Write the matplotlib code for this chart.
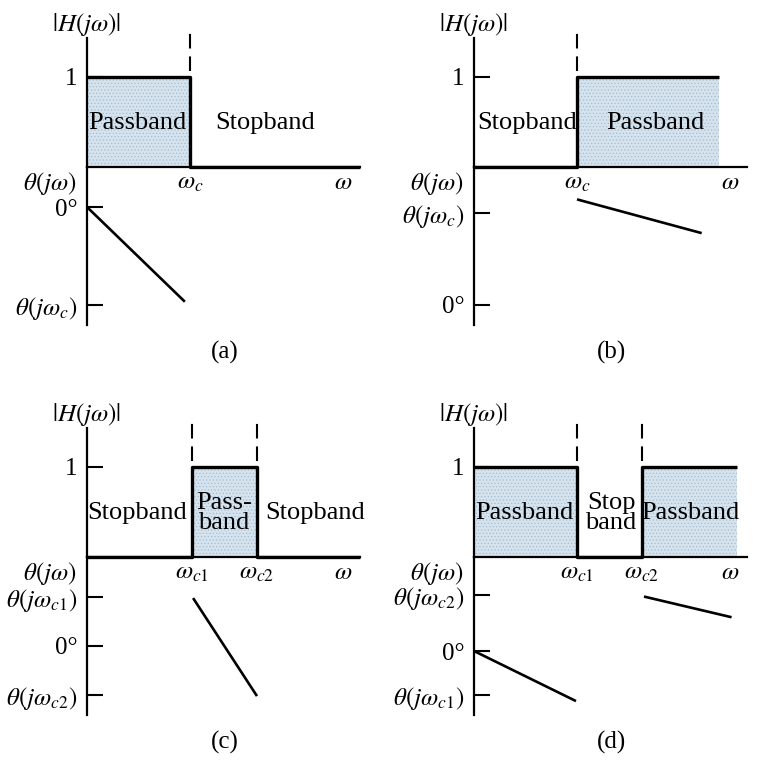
import matplotlib
matplotlib.use('Agg')
import matplotlib.pyplot as plt

plt.rcParams['font.family'] = ['Liberation Serif', 'DejaVu Serif']
plt.rcParams['mathtext.fontset'] = 'stix'
plt.rcParams['hatch.linewidth'] = 0.5

# ---------------- data ----------------
# magnitude responses (omega in units where the first cutoff ~ 1)
w_mag_a = [0, 1.0, 1.0, 2.65]
m_mag_a = [1, 1, 0, 0]
w_mag_b = [0, 1.0, 1.0, 2.38]
m_mag_b = [0, 0, 1, 1]
w_mag_c = [0, 1.02, 1.02, 1.65, 1.65, 2.65]
m_mag_c = [0, 0, 1, 1, 0, 0]
w_mag_d = [0, 1.0, 1.0, 1.63, 1.63, 2.55]
m_mag_d = [1, 1, 0, 0, 1, 1]

# pass-band fill segments (start, end)
pass_a = [(0, 1.0)]
pass_b = [(1.0, 2.38)]
pass_c = [(1.02, 1.65)]
pass_d = [(0, 1.0), (1.63, 2.55)]

# cutoff frequencies and their labels
cut_a = [1.0]
cut_b = [1.0]
cut_c = [1.02, 1.65]
cut_d = [1.0, 1.63]
cut_lbl_a = [r'$\omega_c$']
cut_lbl_b = [r'$\omega_c$']
cut_lbl_c = [r'$\omega_{c1}$', r'$\omega_{c2}$']
cut_lbl_d = [r'$\omega_{c1}$', r'$\omega_{c2}$']

# phase line segments: list of (omega list, phase list)
ph_a = [([0, 0.95], [0, -87])]
ph_b = [([1.0, 2.21], [97, 66])]
ph_c = [([1.03, 1.65], [44, -46])]
ph_d = [([0, 0.99], [0, -46]), ([1.65, 2.50], [50, 31])]

# phase ticks
ph_ticks_a = [0, -90]
ph_tlbl_a = ['0°', r'$\theta(j\omega_c)$']
ph_ticks_b = [84.5, 0]
ph_tlbl_b = [r'$\theta(j\omega_c)$', '0°']
ph_ticks_c = [45, 0, -45]
ph_tlbl_c = [r'$\theta(j\omega_{c1})$', '0°', r'$\theta(j\omega_{c2})$']
ph_ticks_d = [51.4, 0, -40.4]
ph_tlbl_d = [r'$\theta(j\omega_{c2})$', '0°', r'$\theta(j\omega_{c1})$']

# region labels (omega position, text)
reg_a = [(0.49, 'Passband'), (1.73, 'Stopband')]
reg_b = [(0.52, 'Stopband'), (1.76, 'Passband')]
reg_c = [(0.49, 'Stopband'), (1.33, 'Pass-\nband'), (2.21, 'Stopband')]
reg_d = [(0.49, 'Passband'), (1.33, 'Stop\nband'), (2.10, 'Passband')]

letters = ['(a)', '(b)', '(c)', '(d)']

# ---------------- layout ----------------
W, H = 774, 760
fig = plt.figure(figsize=(W / 100, H / 100), dpi=100)
fig.patch.set_facecolor('white')


def rect(x0, y0, x1, y1):
    return [x0 / W, 1 - y1 / H, (x1 - x0) / W, (y1 - y0) / H]


FILL = '#d5e3ee'
HATCH = '#a7bccd'
FS = 18
FSR = 19
K = 1.0889  # px per phase unit
XMAX = 2.65


def panel(ox, oy, w_mag, m_mag, passes, cuts, cut_lbls, ph, ph_ticks, ph_tlbl,
          ph_zero_px, regions, letter):
    axm = fig.add_axes(rect(ox + 87, oy + 38, ox + 360, oy + 167))
    axm.set_xlim(0, XMAX)
    axm.set_ylim(0, 1.43)
    axm.patch.set_alpha(0)
    for s in ['top', 'right']:
        axm.spines[s].set_visible(False)
    for s in ['left', 'bottom']:
        axm.spines[s].set_linewidth(1.6)
    for (a, b) in passes:
        axm.fill_between([a, b], [1, 1], [0, 0], facecolor=FILL, edgecolor=HATCH,
                         hatch='.....', linewidth=0, zorder=1)
    axm.plot(w_mag, m_mag, color='black', lw=2.4, zorder=3, clip_on=False,
             solid_capstyle='butt')
    axm.vlines(cuts, 1.06, 1.51, colors='black', lw=1.5,
               linestyles=(0, (7, 3.8)), clip_on=False)
    axm.set_xticks([])
    axm.set_yticks([1])
    axm.set_yticklabels(['1'])
    axm.tick_params(axis='y', direction='in', length=11.5, width=1.5, pad=7,
                    labelsize=FS)
    for c, l in zip(cuts, cut_lbls):
        axm.text(c, -0.18, l, ha='center', va='center', fontsize=FS)
    axm.text(2.49, -0.18, r'$\omega$', ha='center', va='center', fontsize=FS)
    axm.text(0, 1.58, r'$|H(j\omega)|$', ha='center', va='center', fontsize=FS)
    axm.text(-0.097, -0.18, r'$\theta(j\omega)$', ha='right', va='center',
             fontsize=FS)
    for (x, t) in regions:
        axm.text(x, 0.49, t, ha='center', va='center', fontsize=FSR,
                 linespacing=0.85, zorder=4)

    axp = fig.add_axes(rect(ox + 87, oy + 167, ox + 360, oy + 325))
    axp.set_xlim(0, XMAX)
    top = (ph_zero_px - 167) / K
    bot = -(325 - ph_zero_px) / K
    axp.set_ylim(bot, top)
    axp.patch.set_alpha(0)
    for s in ['top', 'right', 'bottom']:
        axp.spines[s].set_visible(False)
    axp.spines['left'].set_linewidth(1.6)
    for (ws, ps) in ph:
        axp.plot(ws, ps, color='black', lw=1.9, solid_capstyle='butt')
    axp.set_xticks([])
    axp.set_yticks(ph_ticks)
    axp.set_yticklabels(ph_tlbl)
    axp.tick_params(axis='y', direction='in', length=11.5, width=1.5, pad=7,
                    labelsize=FS)
    fig.text((ox + 225) / W, 1 - (oy + 352) / H, letter, ha='center',
             va='center', fontsize=FS)


panel(0, 0, w_mag_a, m_mag_a, pass_a, cut_a, cut_lbl_a, ph_a, ph_ticks_a,
      ph_tlbl_a, 207, reg_a, letters[0])
panel(387, 0, w_mag_b, m_mag_b, pass_b, cut_b, cut_lbl_b, ph_b, ph_ticks_b,
      ph_tlbl_b, 305, reg_b, letters[1])
panel(0, 390, w_mag_c, m_mag_c, pass_c, cut_c, cut_lbl_c, ph_c, ph_ticks_c,
      ph_tlbl_c, 256, reg_c, letters[2])
panel(387, 390, w_mag_d, m_mag_d, pass_d, cut_d, cut_lbl_d, ph_d, ph_ticks_d,
      ph_tlbl_d, 261, reg_d, letters[3])

fig.savefig('out.png', dpi=100)
